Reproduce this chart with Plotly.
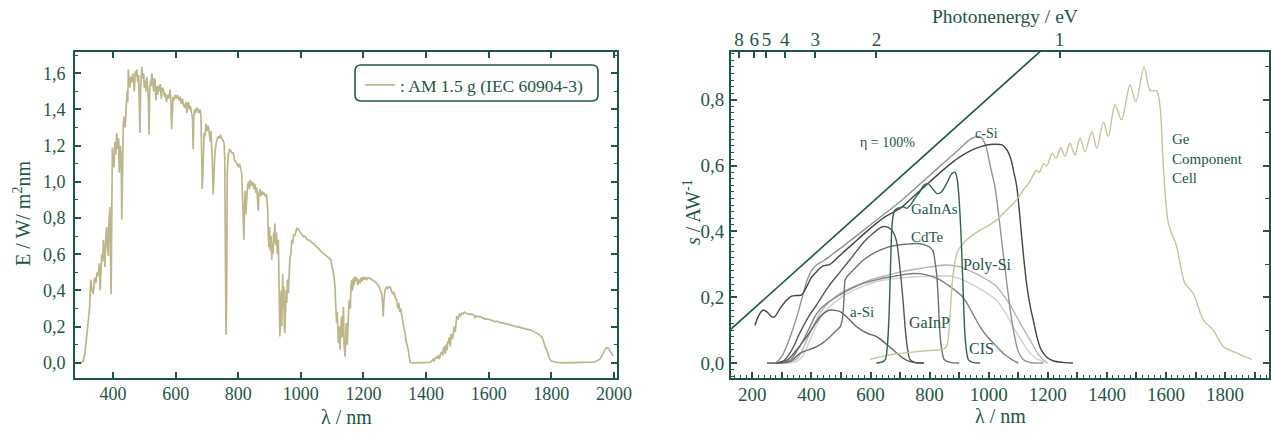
import plotly.graph_objects as go

W, H = 1271, 433
GREEN = "#1e5745"
OLIVE = "#bcb68a"
FONT = "Liberation Serif"

# ---------------- AM 1.5 g spectrum (left chart) ----------------
am15_wavelength = [
    280, 290, 300, 305, 310, 315, 321, 325, 329, 333, 337, 341, 345, 349, 353, 356, 359, 362, 364, 367,
    369, 372, 374, 377, 380, 382, 385, 387, 390, 392, 394, 396, 398, 400, 403, 406, 409, 412, 415, 418,
    420, 423, 426, 428, 430, 433, 436, 439, 442, 445, 447, 449, 452, 454, 457, 460, 463, 465, 468, 471,
    474, 476, 479, 482, 484, 486, 488, 490, 492, 495, 498, 500, 502, 505, 508, 511, 513, 515, 517, 520,
    522, 524, 527, 530, 532, 534, 537, 540, 543, 545, 548, 551, 554, 557, 561, 564, 567, 571, 574, 578,
    582, 585, 587, 589, 592, 595, 598, 602, 606, 610, 614, 618, 622, 626, 630, 633, 636, 638, 641, 644,
    647, 651, 654, 656, 658, 661, 664, 667, 671, 674, 678, 681, 683, 685, 687, 689, 691, 694, 697, 700,
    703, 705, 708, 711, 713, 715, 717, 720, 722, 725, 728, 731, 735, 739, 743, 747, 751, 755, 757, 759,
    761, 763, 765, 768, 772, 776, 780, 784, 788, 792, 796, 800, 804, 808, 811, 814, 816, 818, 820, 822,
    824, 827, 830, 833, 836, 838, 842, 846, 850, 853, 856, 859, 862, 864, 866, 869, 872, 875, 878, 882,
    886, 889, 891, 894, 896, 898, 900, 902, 905, 907, 909, 911, 913, 915, 917, 920, 922, 925, 928, 930,
    932, 933, 935, 937, 939, 941, 942, 944, 946, 947, 949, 951, 953, 955, 957, 960, 962, 965, 968, 971,
    974, 977, 980, 984, 987, 991, 995, 1000, 1004, 1008, 1012, 1016, 1020, 1025, 1030, 1035, 1040, 1045, 1050, 1055,
    1060, 1064, 1068, 1072, 1076, 1080, 1084, 1088, 1092, 1095, 1098, 1101, 1104, 1107, 1109, 1111, 1114, 1116, 1118, 1120,
    1122, 1124, 1125, 1127, 1130, 1132, 1134, 1136, 1138, 1140, 1141, 1143, 1145, 1148, 1150, 1152, 1155, 1158, 1160, 1162,
    1165, 1168, 1170, 1173, 1176, 1179, 1182, 1186, 1189, 1192, 1195, 1199, 1203, 1207, 1211, 1215, 1221, 1225, 1230, 1236,
    1242, 1246, 1250, 1254, 1258, 1261, 1263, 1265, 1267, 1269, 1273, 1277, 1281, 1285, 1289, 1293, 1297, 1301, 1304, 1306,
    1310, 1313, 1316, 1319, 1322, 1325, 1328, 1331, 1333, 1336, 1339, 1341, 1343, 1346, 1349, 1360, 1380, 1400, 1412, 1418,
    1422, 1426, 1430, 1434, 1438, 1442, 1446, 1450, 1453, 1455, 1458, 1461, 1464, 1467, 1469, 1471, 1474, 1477, 1480, 1484,
    1487, 1490, 1493, 1496, 1498, 1502, 1506, 1510, 1514, 1518, 1522, 1526, 1530, 1535, 1540, 1545, 1551, 1556, 1560, 1565,
    1572, 1578, 1584, 1590, 1596, 1604, 1612, 1620, 1628, 1636, 1647, 1655, 1662, 1670, 1680, 1689, 1700, 1710, 1720, 1732,
    1742, 1750, 1758, 1764, 1769, 1774, 1778, 1782, 1785, 1790, 1795, 1800, 1806, 1815, 1838, 1880, 1920, 1934, 1945, 1955,
    1965, 1972, 1977, 1982, 1988, 1993, 1998,
]
am15_irradiance = [
    0.0, 0.0, 0.002, 0.01, 0.05, 0.13, 0.22, 0.30, 0.46, 0.40, 0.38, 0.47, 0.44, 0.50, 0.48, 0.55, 0.40, 0.52, 0.60, 0.56,
    0.68, 0.62, 0.53, 0.70, 0.75, 0.64, 0.59, 0.78, 0.86, 0.60, 0.38, 0.80, 1.19, 1.10, 1.08, 1.22, 1.15, 1.27, 1.18, 1.24,
    1.05, 1.20, 1.15, 0.79, 1.10, 1.32, 1.36, 1.30, 1.41, 1.50, 1.44, 1.62, 1.56, 1.52, 1.58, 1.55, 1.60, 1.57, 1.50, 1.61,
    1.58, 1.62, 1.55, 1.59, 1.45, 1.27, 1.50, 1.58, 1.635, 1.57, 1.60, 1.52, 1.56, 1.50, 1.58, 1.52, 1.45, 1.26, 1.50, 1.56,
    1.53, 1.60, 1.55, 1.50, 1.57, 1.56, 1.45, 1.53, 1.48, 1.53, 1.50, 1.54, 1.46, 1.52, 1.51, 1.47, 1.49, 1.44, 1.48, 1.46,
    1.51, 1.45, 1.29, 1.42, 1.47, 1.45, 1.48, 1.46, 1.48, 1.45, 1.47, 1.43, 1.46, 1.42, 1.41, 1.44, 1.38, 1.43, 1.44, 1.40,
    1.42, 1.38, 1.35, 1.18, 1.36, 1.40, 1.38, 1.41, 1.40, 1.38, 1.40, 1.36, 1.20, 0.96, 1.05, 1.20, 1.27, 1.25, 1.32, 1.28,
    1.31, 1.30, 1.26, 1.22, 1.28, 1.23, 1.12, 0.93, 1.05, 1.15, 1.20, 1.23, 1.25, 1.24, 1.26, 1.24, 1.23, 1.21, 1.12, 0.60,
    0.155, 0.40, 1.05, 1.15, 1.18, 1.17, 1.16, 1.16, 1.12, 1.11, 1.10, 1.08, 1.10, 1.07, 1.05, 0.90, 0.78, 0.68, 0.85, 0.95,
    0.82, 0.94, 0.98, 1.00, 0.96, 1.01, 0.98, 1.00, 0.96, 0.99, 0.94, 0.97, 0.88, 0.84, 0.93, 0.96, 0.92, 0.95, 0.93, 0.94,
    0.92, 0.93, 0.92, 0.85, 0.70, 0.64, 0.75, 0.62, 0.70, 0.57, 0.66, 0.60, 0.72, 0.66, 0.77, 0.65, 0.72, 0.60, 0.68, 0.45,
    0.30, 0.145, 0.25, 0.40, 0.20, 0.45, 0.49, 0.30, 0.42, 0.20, 0.164, 0.30, 0.40, 0.33, 0.46, 0.385, 0.50, 0.58, 0.60, 0.68,
    0.66, 0.71, 0.70, 0.73, 0.743, 0.74, 0.73, 0.72, 0.71, 0.697, 0.70, 0.69, 0.68, 0.68, 0.67, 0.665, 0.66, 0.65, 0.64, 0.635,
    0.62, 0.615, 0.61, 0.605, 0.60, 0.59, 0.585, 0.58, 0.575, 0.57, 0.55, 0.52, 0.495, 0.46, 0.42, 0.33, 0.22, 0.28, 0.15, 0.108,
    0.20, 0.12, 0.072, 0.18, 0.255, 0.14, 0.30, 0.31, 0.10, 0.05, 0.035, 0.12, 0.22, 0.10, 0.25, 0.274, 0.35, 0.30, 0.42, 0.458,
    0.40, 0.47, 0.43, 0.476, 0.45, 0.47, 0.43, 0.46, 0.44, 0.47, 0.45, 0.476, 0.46, 0.47, 0.46, 0.47, 0.467, 0.46, 0.455, 0.45,
    0.44, 0.43, 0.42, 0.40, 0.384, 0.33, 0.256, 0.34, 0.38, 0.403, 0.42, 0.41, 0.42, 0.42, 0.40, 0.38, 0.39, 0.36, 0.35, 0.348,
    0.30, 0.33, 0.28, 0.30, 0.256, 0.22, 0.20, 0.18, 0.164, 0.12, 0.10, 0.08, 0.072, 0.03, 0.002, 0.0, 0.0, 0.0, 0.002, 0.01,
    0.02, 0.012, 0.03, 0.026, 0.04, 0.02, 0.05, 0.06, 0.04, 0.072, 0.09, 0.05, 0.10, 0.07, 0.12, 0.108, 0.14, 0.09, 0.16, 0.13,
    0.164, 0.20, 0.17, 0.23, 0.256, 0.24, 0.27, 0.26, 0.274, 0.27, 0.28, 0.275, 0.274, 0.27, 0.265, 0.27, 0.265, 0.25, 0.26, 0.255,
    0.256, 0.25, 0.245, 0.24, 0.243, 0.237, 0.235, 0.228, 0.23, 0.222, 0.219, 0.215, 0.21, 0.208, 0.205, 0.20, 0.196, 0.19, 0.186, 0.182,
    0.175, 0.168, 0.16, 0.15, 0.145, 0.125, 0.10, 0.08, 0.072, 0.04, 0.02, 0.01, 0.007, 0.003, 0.0, 0.0, 0.002, 0.004, 0.01, 0.02,
    0.05, 0.075, 0.083, 0.08, 0.065, 0.046, 0.04,
]
left_x_ticks = [400, 600, 800, 1000, 1200, 1400, 1600, 1800, 2000]
left_y_ticks = [0.0, 0.2, 0.4, 0.6, 0.8, 1.0, 1.2, 1.4, 1.6]

# ---------------- spectral response (right chart) ----------------
eta_lambda = [100, 1240]
eta_s = [0.0806, 1.0]

csi_lambda = [250, 280, 300, 320, 340, 360, 375, 385, 400, 420, 440, 463, 500, 550, 600, 650, 700, 750, 800, 850,
              900, 930, 959, 975, 990, 1005, 1021, 1035, 1049, 1063, 1078, 1090, 1100, 1115, 1130, 1150, 1185]
csi_s = [0.0, 0.002, 0.02, 0.06, 0.11, 0.17, 0.22, 0.25, 0.28, 0.30, 0.31, 0.325, 0.35, 0.385, 0.42, 0.455, 0.49, 0.53, 0.57, 0.61,
         0.65, 0.675, 0.688, 0.685, 0.66, 0.60, 0.536, 0.44, 0.333, 0.23, 0.13, 0.07, 0.035, 0.012, 0.004, 0.0, 0.0]

csi2_lambda = [209, 222, 237, 250, 265, 275, 294, 315, 333, 350, 367, 384, 400, 420, 440, 463, 500, 550, 600, 650,
               700, 750, 800, 850, 900, 950, 990, 1021, 1045, 1060, 1075, 1085, 1095, 1106, 1117, 1130, 1141, 1151, 1163, 1175,
               1185, 1200, 1220, 1250, 1285]
csi2_s = [0.115, 0.145, 0.161, 0.155, 0.141, 0.14, 0.166, 0.19, 0.203, 0.205, 0.207, 0.232, 0.26, 0.28, 0.295, 0.30, 0.33, 0.37, 0.41, 0.445,
          0.47, 0.51, 0.55, 0.59, 0.625, 0.65, 0.662, 0.665, 0.663, 0.65, 0.62, 0.58, 0.536, 0.44, 0.333, 0.23, 0.17, 0.13, 0.08, 0.045,
          0.03, 0.015, 0.006, 0.002, 0.0]

gainp_lambda = [250, 300, 320, 340, 360, 390, 420, 460, 500, 540, 580, 610, 640, 660, 675, 688, 697, 705, 711, 718,
                725, 734, 750, 780]
gainp_s = [0.0, 0.003, 0.02, 0.05, 0.09, 0.14, 0.18, 0.235, 0.28, 0.325, 0.37, 0.395, 0.414, 0.412, 0.40, 0.37, 0.31, 0.24, 0.18, 0.10,
           0.045, 0.01, 0.002, 0.0]

cdte_lambda = [250, 300, 330, 361, 390, 418, 440, 463, 480, 497, 505, 510, 514, 520, 525, 550, 576, 600, 632, 660,
               689, 720, 756, 780, 801, 812, 818, 824, 830, 835, 842, 850, 870, 900]
cdte_s = [0.0, 0.0, 0.005, 0.029, 0.04, 0.05, 0.062, 0.08, 0.095, 0.11, 0.135, 0.19, 0.252, 0.262, 0.267, 0.29, 0.313, 0.328, 0.343, 0.352,
          0.358, 0.361, 0.363, 0.36, 0.352, 0.34, 0.31, 0.27, 0.18, 0.09, 0.035, 0.01, 0.002, 0.0]

asi_lambda = [250, 290, 320, 350, 384, 410, 429, 445, 463, 480, 497, 520, 553, 590, 621, 650, 670, 689, 710, 734, 760, 780]
asi_s = [0.0, 0.002, 0.01, 0.04, 0.08, 0.115, 0.14, 0.153, 0.161, 0.16, 0.156, 0.14, 0.11, 0.09, 0.08, 0.06, 0.045, 0.03, 0.015, 0.004, 0.0, 0.0]

cis_lambda = [250, 300, 330, 350, 373, 395, 418, 450, 497, 540, 576, 630, 689, 744, 790, 830, 870, 913, 940, 971,
              1000, 1027, 1055, 1083, 1100]
cis_s = [0.0, 0.002, 0.01, 0.035, 0.07, 0.11, 0.15, 0.18, 0.207, 0.228, 0.242, 0.255, 0.265, 0.272, 0.268, 0.255, 0.232, 0.20, 0.16, 0.11,
         0.075, 0.05, 0.025, 0.008, 0.0]

polysi_lambda = [250, 300, 330, 350, 370, 384, 405, 429, 460, 497, 550, 598, 650, 700, 750, 801, 858, 900, 960, 1000,
                 1027, 1055, 1083, 1110, 1140, 1165, 1184, 1200]
polysi_s = [0.0, 0.001, 0.004, 0.012, 0.04, 0.07, 0.11, 0.15, 0.185, 0.212, 0.235, 0.252, 0.265, 0.276, 0.285, 0.292, 0.298, 0.293, 0.27, 0.25,
            0.232, 0.20, 0.16, 0.115, 0.07, 0.03, 0.01, 0.0]

light_lambda = [250, 320, 350, 370, 395, 415, 440, 480, 519, 580, 632, 700, 760, 830, 880, 930, 980, 1027, 1055, 1083,
                1110, 1140, 1165, 1190, 1200]
light_s = [0.0, 0.0, 0.005, 0.02, 0.07, 0.11, 0.15, 0.185, 0.21, 0.235, 0.25, 0.258, 0.262, 0.265, 0.262, 0.245, 0.22, 0.19, 0.155, 0.11,
           0.07, 0.03, 0.012, 0.003, 0.0]

gainas_lambda = [620, 640, 650, 657, 663, 668, 673, 680, 690, 700, 711, 722, 735, 750, 767, 780, 794, 810, 825, 840,
                 860, 875, 886, 893, 898, 903, 909, 915, 920, 926, 931, 945, 971]
gainas_s = [0.0, 0.003, 0.01, 0.05, 0.15, 0.30, 0.42, 0.46, 0.47, 0.472, 0.475, 0.47, 0.48, 0.50, 0.52, 0.54, 0.545, 0.53, 0.515, 0.52,
            0.55, 0.575, 0.58, 0.56, 0.52, 0.45, 0.334, 0.18, 0.081, 0.03, 0.01, 0.002, 0.0]

ge_lambda = [598, 640, 689, 750, 801, 846, 857, 863, 869, 875, 881, 886, 892, 914, 940, 971, 1000, 1027, 1055, 1083,
             1110, 1120, 1135, 1150, 1160, 1172, 1185, 1197, 1215, 1228, 1244, 1258, 1275, 1292, 1309, 1326, 1349, 1366, 1388, 1405,
             1427, 1450, 1478, 1498, 1526, 1546, 1568, 1580, 1591, 1608, 1636, 1664, 1692, 1726, 1760, 1794, 1839, 1890]
ge_s = [0.011, 0.02, 0.028, 0.034, 0.038, 0.042, 0.05, 0.075, 0.14, 0.226, 0.28, 0.308, 0.333, 0.364, 0.385, 0.404, 0.418, 0.435, 0.46, 0.485,
        0.515, 0.53, 0.545, 0.57, 0.585, 0.58, 0.605, 0.60, 0.638, 0.622, 0.655, 0.628, 0.668, 0.632, 0.684, 0.642, 0.703, 0.652, 0.733, 0.688,
        0.784, 0.739, 0.845, 0.794, 0.90, 0.828, 0.828, 0.779, 0.597, 0.425, 0.354, 0.242, 0.212, 0.131, 0.10, 0.05, 0.03, 0.011]

right_x_ticks = [200, 300, 400, 500, 600, 700, 800, 900, 1000, 1100, 1200, 1300, 1400, 1500, 1600, 1700, 1800, 1900]
right_x_labels = ["200", " ", "400", " ", "600", " ", "800", " ", "1000", " ", "1200", " ", "1400", " ", "1600", " ", "1800", " "]
right_y_ticks = [0.0, 0.2, 0.4, 0.6, 0.8]
photon_energies = [8, 6, 5, 4, 3, 2, 1]
photon_labels = ["8", "6", "5", "4", "3", "2", "1"]

curves = [
    ("Poly-Si", polysi_lambda, polysi_s, "#b5b5b5"),
    ("light", light_lambda, light_s, "#d0d0d0"),
    ("CIS", cis_lambda, cis_s, "#808080"),
    ("a-Si", asi_lambda, asi_s, "#626262"),
    ("CdTe", cdte_lambda, cdte_s, "#707070"),
    ("GaInP", gainp_lambda, gainp_s, "#565656"),
    ("c-Si", csi_lambda, csi_s, "#929292"),
    ("c-Si 2", csi2_lambda, csi2_s, "#444444"),
    ("Ge", ge_lambda, ge_s, "#c8c39c"),
    ("GaInAs", gainas_lambda, gainas_s, "#2b6650"),
]

fig = go.Figure()

fig.add_trace(go.Scatter(x=am15_wavelength, y=am15_irradiance, mode="lines",
                         line=dict(color=OLIVE, width=1.7), name=": AM 1.5 g (IEC 60904-3)",
                         xaxis="x", yaxis="y", showlegend=True))

for name, xs, ys, col in curves:
    fig.add_trace(go.Scatter(x=xs, y=ys, mode="lines",
                             line=dict(color=col, width=1.4, shape="spline", smoothing=0.8),
                             name=name, xaxis="x2", yaxis="y2", showlegend=False))

fig.add_trace(go.Scatter(x=eta_lambda, y=eta_s, mode="lines", line=dict(color=GREEN, width=1.6),
                         name="η = 100%", xaxis="x2", yaxis="y2", showlegend=False))
# invisible trace so the overlay axes (top energy axis, right tick axis) are drawn
fig.add_trace(go.Scatter(x=eta_lambda, y=eta_s, mode="lines", line=dict(color="rgba(0,0,0,0)", width=0),
                         xaxis="x3", yaxis="y4", showlegend=False, hoverinfo="skip"))

ytop, ybot = 51.5, 378
ydom = [1 - ybot / H, 1 - ytop / H]
LX = [75, 617]
RX = [731, 1269]

tickfont_l = dict(family=FONT, size=18, color=GREEN)
tickfont_r = dict(family=FONT, size=19, color=GREEN)

fig.update_layout(
    width=W, height=H, margin=dict(l=0, r=0, t=0, b=0), autosize=False,
    paper_bgcolor="white", plot_bgcolor="white", separators=",.",
    font=dict(family=FONT, color=GREEN),
    xaxis=dict(domain=[LX[0] / W, LX[1] / W], range=[278.6, 2009.7], anchor="y",
               tickvals=left_x_ticks, ticks="inside", ticklen=6, tickwidth=1.6, tickcolor=GREEN,
               showline=True, linecolor=GREEN, linewidth=2, mirror="ticks", showgrid=False, zeroline=False,
               tickfont=tickfont_l, automargin=False, ticklabelstandoff=-2),
    yaxis=dict(domain=ydom, range=[-0.084, 1.72], anchor="x",
               tickvals=left_y_ticks, tickformat=".1f", ticks="inside", ticklen=6, tickwidth=1.6, tickcolor=GREEN,
               minor=dict(dtick=0.1, ticks="inside", ticklen=3, tickwidth=1.3, tickcolor=GREEN, showgrid=False),
               showline=True, linecolor=GREEN, linewidth=2, mirror="ticks", showgrid=False, zeroline=False,
               tickfont=tickfont_l, automargin=False, ticklabelstandoff=4),
    xaxis2=dict(domain=[RX[0] / W, RX[1] / W], range=[127.9, 1948.6], anchor="y2",
                tickvals=right_x_ticks, ticktext=right_x_labels, ticks="inside", ticklen=6, tickwidth=1.6,
                tickcolor=GREEN,
                minor=dict(dtick=20, tick0=0, ticks="inside", ticklen=3, tickwidth=1.3, tickcolor=GREEN, showgrid=False),
                showline=True, linecolor=GREEN, linewidth=2, showgrid=False, zeroline=False,
                tickfont=tickfont_r, automargin=False, ticklabelstandoff=-2),
    xaxis3=dict(overlaying="x2", side="top", anchor="y2", range=[127.9, 1948.6],
                tickvals=[1240.0 / e for e in photon_energies], ticktext=photon_labels,
                ticks="inside", ticklen=6, tickwidth=1.6, tickcolor=GREEN,
                showline=True, linecolor=GREEN, linewidth=2, showgrid=False, zeroline=False,
                tickfont=tickfont_r, automargin=False, ticklabelstandoff=-4),
    yaxis2=dict(domain=ydom, range=[-0.0456, 0.9468], anchor="x2",
                tickvals=right_y_ticks, tickformat=".1f", ticks="inside", ticklen=6, tickwidth=1.6, tickcolor=GREEN,
                minor=dict(dtick=0.02, ticks="inside", ticklen=3, tickwidth=1.3, tickcolor=GREEN, showgrid=False),
                showline=True, linecolor=GREEN, linewidth=2, showgrid=False, zeroline=False,
                tickfont=tickfont_r, automargin=False, ticklabelstandoff=1),
    yaxis4=dict(overlaying="y2", side="right", anchor="x2", range=[-0.0456, 0.9468],
                dtick=0.2, tick0=0, ticks="inside", ticklen=6, tickwidth=1.6, tickcolor=GREEN,
                minor=dict(dtick=0.1, ticks="inside", ticklen=4, tickwidth=1.3, tickcolor=GREEN, showgrid=False),
                showticklabels=False, showline=True, linecolor=GREEN, linewidth=2, showgrid=False, zeroline=False,
                automargin=False),
    legend=dict(x=360 / W, y=1 - 67 / H, xanchor="left", yanchor="top", bgcolor="rgba(0,0,0,0)",
                borderwidth=0, font=dict(family=FONT, size=17.5, color=GREEN), itemwidth=30),
    showlegend=True,
)

# rounded legend frame
def px(x):
    return x / W

def py(y):
    return 1 - y / H

x0, x1, y0, y1, r = 355, 598, 65, 101, 6
path = (f"M {px(x0 + r)},{py(y0)} L {px(x1 - r)},{py(y0)} Q {px(x1)},{py(y0)} {px(x1)},{py(y0 + r)} "
        f"L {px(x1)},{py(y1 - r)} Q {px(x1)},{py(y1)} {px(x1 - r)},{py(y1)} "
        f"L {px(x0 + r)},{py(y1)} Q {px(x0)},{py(y1)} {px(x0)},{py(y1 - r)} "
        f"L {px(x0)},{py(y0 + r)} Q {px(x0)},{py(y0)} {px(x0 + r)},{py(y0)} Z")
fig.add_shape(type="path", path=path, xref="paper", yref="paper", line=dict(color=GREEN, width=1.6),
              fillcolor="rgba(0,0,0,0)", layer="above")

def ann(text, x, y, size, xref="paper", yref="paper", angle=0, xanchor="center", align="center"):
    fig.add_annotation(text=text, x=x, y=y, xref=xref, yref=yref, showarrow=False, textangle=angle,
                       xanchor=xanchor, yanchor="middle", align=align,
                       font=dict(family=FONT, size=size, color=GREEN))

# axis titles
ann("λ / nm", px(346), py(417), 20)
ann("E / W/ m<sup>2</sup>nm", px(22), py(214), 20, angle=-90)
ann("λ / nm", px(1000), py(416), 20)
ann("<i>s</i> / AW<sup>-1</sup>", px(692), py(212), 20, angle=-90)
ann("Photonenergy / eV", px(1005), py(16), 19.5)

# curve labels (data coordinates of the right chart)
ann("η = 100%", 656, 0.669, 14, "x2", "y2")
ann("c-Si", 994, 0.699, 14, "x2", "y2")
ann("GaInAs", 818, 0.468, 15, "x2", "y2")
ann("CdTe", 793, 0.384, 15, "x2", "y2")
ann("Poly-Si", 997, 0.298, 16, "x2", "y2")
ann("a-Si", 570, 0.156, 15, "x2", "y2")
ann("GaInP", 801, 0.123, 16, "x2", "y2")
ann("CIS", 974, 0.043, 16, "x2", "y2")
ann("Ge<br>Component<br>Cell", 1613, 0.623, 15, "x2", "y2", xanchor="left", align="left")

fig.write_html("out.html", config={"displayModeBar": False},
               post_script="document.body.style.margin='0px';document.body.style.overflow='hidden';")
